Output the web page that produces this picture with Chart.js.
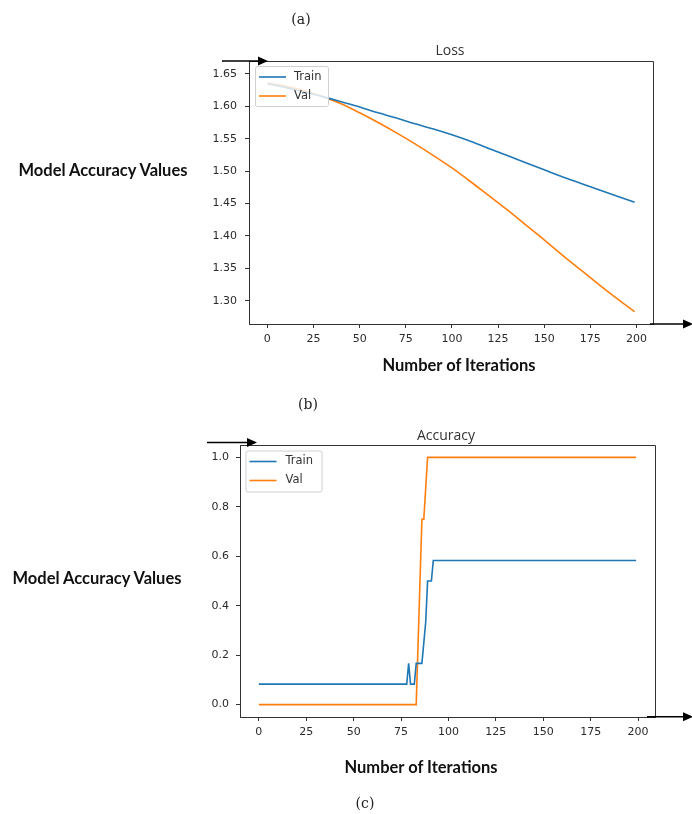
<!DOCTYPE html>
<html><head><meta charset="utf-8">
<script src="https://cdn.jsdelivr.net/npm/chart.js@4.4.0/dist/chart.umd.min.js"></script>
<style>
html,body{margin:0;padding:0;background:#fff;}
body{width:692px;height:814px;position:relative;overflow:hidden;}
canvas{position:absolute;left:0;}
.t{position:absolute;white-space:nowrap;transform:translate(-50%,-50%);}
.cap{font-family:"DejaVu Serif","Liberation Serif",serif;font-size:14px;color:#222;}
.lab{font-family:Lato,"Open Sans",sans-serif;font-weight:bold;font-size:16.5px;color:#111;}
.ttl{font-family:"Open Sans",sans-serif;font-size:14px;color:#333;}
</style></head><body>
<canvas id="c1" width="692" height="400" style="top:0"></canvas>
<canvas id="c2" width="692" height="414" style="top:400px"></canvas>

<div class="t cap" style="left:301px;top:19px">(a)</div>
<div class="t ttl" style="left:450px;top:49px">Loss</div>
<div class="t lab" style="left:103px;top:170px">Model Accuracy Values</div>
<div class="t lab" style="left:459px;top:365px">Number of Iterations</div>
<div class="t cap" style="left:308px;top:404px">(b)</div>
<div class="t ttl" style="left:446px;top:434px">Accuracy</div>
<div class="t lab" style="left:97px;top:578px">Model Accuracy Values</div>
<div class="t lab" style="left:421px;top:767px">Number of Iterations</div>
<div class="t cap" style="left:365px;top:803px">(c)</div>

<script>
// ---------- data ----------
const seriesNames = ["Train", "Val"];
const seriesColors = ["#1f77b4", "#ff7f0e"];

const xTicks = [0, 25, 50, 75, 100, 125, 150, 175, 200];

// Loss chart
const lossIter  = [0, 10, 20, 30, 40, 50, 60, 70, 80, 90, 100, 110, 120, 130, 140, 150, 160, 170, 180, 190, 199];
const lossTrain = [1.635, 1.629, 1.622, 1.615, 1.607, 1.599, 1.590, 1.582, 1.573, 1.565, 1.556, 1.546, 1.535, 1.524, 1.513, 1.502, 1.491, 1.481, 1.471, 1.461, 1.452];
const lossVal   = [1.636, 1.631, 1.624, 1.615, 1.604, 1.590, 1.575, 1.559, 1.542, 1.524, 1.505, 1.484, 1.462, 1.440, 1.417, 1.394, 1.370, 1.347, 1.324, 1.302, 1.283];
const lossYTicks = [1.30, 1.35, 1.40, 1.45, 1.50, 1.55, 1.60, 1.65];

// Accuracy chart
const accTrainIter = [0, 78, 79, 80, 82, 83, 86, 87, 88, 89, 91, 92, 199];
const accTrain     = [0.083, 0.083, 0.167, 0.083, 0.083, 0.167, 0.167, 0.25, 0.333, 0.5, 0.5, 0.583, 0.583];
const accValIter   = [0, 83, 84, 85, 86, 87, 88, 89, 199];
const accVal       = [0, 0, 0.25, 0.5, 0.75, 0.75, 0.875, 1.0, 1.0];
const accYTicks = [0.0, 0.2, 0.4, 0.6, 0.8, 1.0];

// ---------- helpers ----------
const pts = (xs, ys) => xs.map((x, i) => ({x: x, y: ys[i]}));
const AX = '#333';

const framePlugin = {
  id: 'frame',
  afterDraw(chart, args, opts) {
    const ctx = chart.ctx, a = chart.chartArea;
    ctx.save();
    ctx.strokeStyle = AX; ctx.lineWidth = 1;
    ctx.beginPath();
    ctx.moveTo(Math.round(a.left) + 0.5, Math.round(a.top) + 0.5);
    ctx.lineTo(Math.round(a.right) + 0.5, Math.round(a.top) + 0.5);
    ctx.lineTo(Math.round(a.right) + 0.5, Math.round(a.bottom) + 0.5);
    ctx.stroke();
    const lg = opts.legend;
    const bx = a.left + lg.dx, by = a.top + lg.dy;
    ctx.fillStyle = 'rgba(255,255,255,0.8)';
    ctx.strokeStyle = '#d0d0d0';
    ctx.beginPath();
    ctx.roundRect(bx + 0.5, by + 0.5, lg.w, lg.h, 2);
    ctx.fill(); ctx.stroke();
    ctx.font = '11.5px "DejaVu Sans"';
    ctx.textBaseline = 'middle';
    chart.data.datasets.forEach((ds, i) => {
      const yy = by + lg.row0 + i * lg.rowH;
      ctx.strokeStyle = ds.borderColor; ctx.lineWidth = 1.6;
      ctx.beginPath(); ctx.moveTo(bx + 4, yy); ctx.lineTo(bx + 31, yy); ctx.stroke();
      ctx.fillStyle = '#333';
      ctx.fillText(ds.label, bx + lg.tx, yy);
    });
    ctx.strokeStyle = '#000'; ctx.fillStyle = '#000'; ctx.lineWidth = 1.4;
    (opts.arrows || []).forEach(ar => {
      ctx.beginPath(); ctx.moveTo(ar.x1, ar.y); ctx.lineTo(ar.tip - 2, ar.y); ctx.stroke();
      ctx.beginPath();
      ctx.moveTo(ar.tip, ar.y);
      ctx.lineTo(ar.tip - 10, ar.y - 4.5);
      ctx.lineTo(ar.tip - 10, ar.y + 4.5);
      ctx.closePath(); ctx.fill();
    });
    ctx.restore();
  }
};

function makeChart(id, datasets, yTicks, yDec, ymin, ymax, cfg) {
  return new Chart(document.getElementById(id), {
    type: 'line',
    data: { datasets: datasets },
    options: {
      responsive: false, animation: false,
      layout: { padding: cfg.padding },
      plugins: { legend: { display: false }, title: { display: false }, tooltip: { enabled: false },
                 frame: { legend: cfg.legend, arrows: cfg.arrows } },
      elements: { point: { radius: 0 } },
      scales: {
        x: {
          type: 'linear', min: -9.95, max: 208.95,
          afterBuildTicks: s => { s.ticks = xTicks.map(v => ({value: v})); },
          afterFit: s => { s.height = cfg.xh; },
          grid: { drawOnChartArea: false, drawTicks: true, tickLength: 4, tickColor: AX },
          border: { display: true, color: AX, width: 1 },
          ticks: { font: { family: 'DejaVu Sans', size: 11 }, color: '#2b2b2b', padding: 5, maxRotation: 0, autoSkip: false,
                   callback: v => String(v) }
        },
        y: {
          type: 'linear', min: ymin, max: ymax,
          afterBuildTicks: s => { s.ticks = yTicks.map(v => ({value: v})); },
          afterFit: s => { s.width = 60; },
          grid: { drawOnChartArea: false, drawTicks: true, tickLength: 4, tickColor: AX },
          border: { display: true, color: AX, width: 1 },
          ticks: { font: { family: 'DejaVu Sans', size: 11 }, color: '#2b2b2b', padding: cfg.ypad, autoSkip: false,
                   callback: v => Number(v).toFixed(yDec) }
        }
      }
    },
    plugins: [framePlugin]
  });
}

const mk = (xs, ys, i, smooth) => ({
  label: seriesNames[i], data: pts(xs, ys), borderColor: seriesColors[i], backgroundColor: seriesColors[i],
  borderWidth: 1.6, fill: false, tension: 0, cubicInterpolationMode: smooth ? 'monotone' : 'default'
});

makeChart('c1',
  [mk(lossIter, lossTrain, 0, true), mk(lossIter, lossVal, 1, true)],
  lossYTicks, 2, 1.264, 1.670,
  { padding: { top: 61, left: 189, right: 39, bottom: 0 }, xh: 76, ypad: 8,
    legend: { dx: 6, dy: 5, w: 73, h: 40, row0: 11, rowH: 19, tx: 39 },
    arrows: [ { x1: 222, tip: 268, y: 61 }, { x1: 650, tip: 693, y: 324 } ] });

makeChart('c2',
  [mk(accTrainIter, accTrain, 0, false), mk(accValIter, accVal, 1, false)],
  accYTicks, 1, -0.05, 1.05,
  { padding: { top: 45, left: 180, right: 37, bottom: 0 }, xh: 97, ypad: 7,
    legend: { dx: 5.5, dy: 5.5, w: 76, h: 41, row0: 11, rowH: 19, tx: 40 },
    arrows: [ { x1: 207, tip: 257, y: 42.5 }, { x1: 647, tip: 693, y: 316.7 } ] });
</script>
</body></html>
